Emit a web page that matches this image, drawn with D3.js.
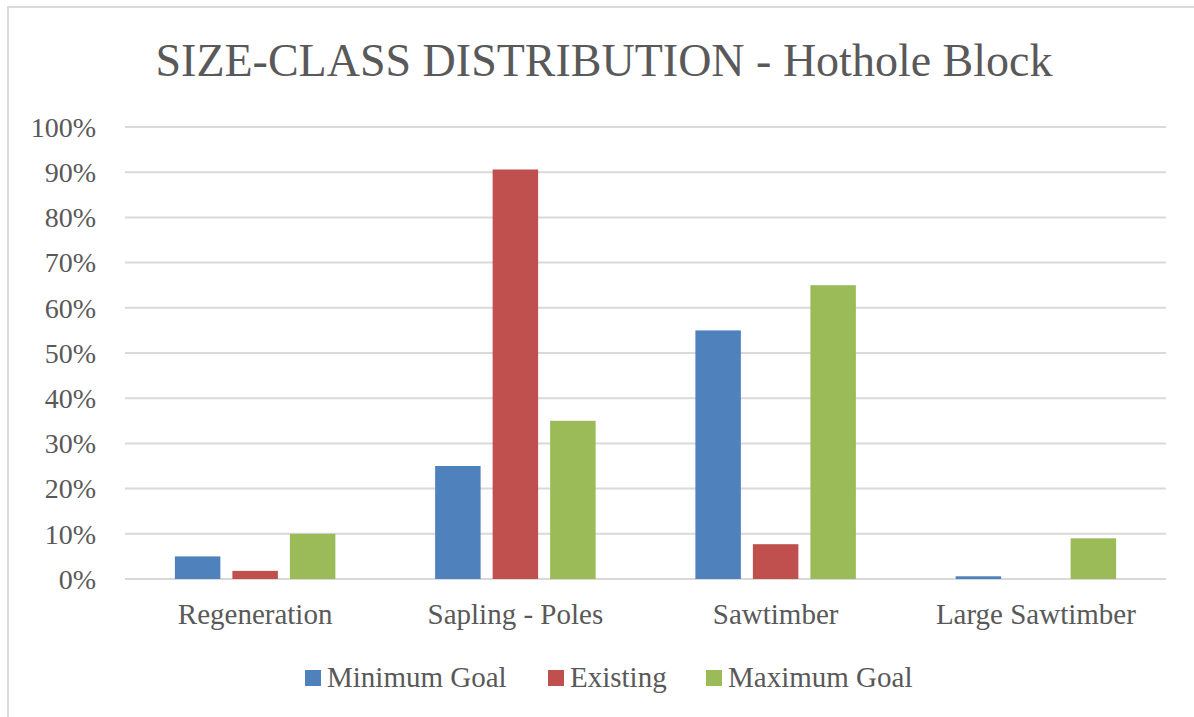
<!DOCTYPE html>
<html>
<head>
<meta charset="utf-8">
<script src="https://cdn.jsdelivr.net/npm/d3@7"></script>
<style>
  html, body { margin: 0; padding: 0; background: #fff; }
  svg { display: block; }
  text { font-family: "Liberation Serif", "Times New Roman", serif; fill: #595959; }
</style>
</head>
<body>
<svg id="chart" width="1194" height="717"></svg>
<script>
// Size-class distribution for the Hothole Block
const categories = ["Regeneration", "Sapling - Poles", "Sawtimber", "Large Sawtimber"];
const seriesNames = ["Minimum Goal", "Existing", "Maximum Goal"];
const minimumGoal = [0.05, 0.25, 0.55, 0.006];
const existing = [0.018, 0.906, 0.077, 0];
const maximumGoal = [0.10, 0.35, 0.65, 0.09];
const seriesColors = ["#4f81bd", "#c0504d", "#9bbb59"];
const yTicks = [0, 0.1, 0.2, 0.3, 0.4, 0.5, 0.6, 0.7, 0.8, 0.9, 1.0];
const titleText = "SIZE-CLASS DISTRIBUTION - Hothole Block";

const seriesValues = [minimumGoal, existing, maximumGoal];

const svg = d3.select("#chart");

// chart frame
svg.append("rect")
  .attr("x", 8).attr("y", 7)
  .attr("width", 1200).attr("height", 720)
  .attr("fill", "#fff")
  .attr("stroke", "#d9d9d9")
  .attr("stroke-width", 2);

const plot = { left: 125, right: 1166, top: 127, bottom: 579 };

const x = d3.scaleBand()
  .domain(categories)
  .range([plot.left, plot.right])
  .padding(0);

const groupWidth = 160.5;
const xs = d3.scaleBand()
  .domain(seriesNames)
  .range([0, groupWidth])
  .paddingInner(0.209)
  .paddingOuter(0);

const y = d3.scaleLinear()
  .domain([0, 1])
  .range([plot.bottom, plot.top]);

// gridlines
svg.append("g")
  .selectAll("line")
  .data(yTicks)
  .join("line")
  .attr("x1", plot.left).attr("x2", plot.right)
  .attr("y1", d => y(d)).attr("y2", d => y(d))
  .attr("stroke", "#d9d9d9")
  .attr("stroke-width", 2);

// y axis labels
const yAxis = d3.axisLeft(y)
  .tickValues(yTicks)
  .tickFormat(d3.format(".0%"))
  .tickSize(0)
  .tickPadding(29);
const yg = svg.append("g")
  .attr("transform", `translate(${plot.left},0)`)
  .call(yAxis);
yg.select(".domain").remove();
yg.selectAll("text")
  .attr("font-size", 28)
  .attr("fill", "#595959")
  .attr("dy", "0.33em");

// bars
const rows = [];
categories.forEach((c, i) => {
  seriesNames.forEach((s, j) => {
    rows.push({ cat: c, series: s, value: seriesValues[j][i], color: seriesColors[j] });
  });
});

svg.append("g")
  .selectAll("rect")
  .data(rows)
  .join("rect")
  .attr("x", d => x(d.cat) + (x.bandwidth() - groupWidth) / 2 + xs(d.series))
  .attr("width", xs.bandwidth())
  .attr("y", d => y(d.value))
  .attr("height", d => y(0) - y(d.value))
  .attr("fill", d => d.color);

// category axis labels
const xAxis = d3.axisBottom(x).tickSize(0).tickPadding(24);
const xg = svg.append("g")
  .attr("transform", `translate(0,${plot.bottom})`)
  .call(xAxis);
xg.select(".domain").remove();
xg.selectAll("text")
  .attr("font-size", 29)
  .attr("fill", "#595959");

// title
svg.append("text")
  .attr("x", 604)
  .attr("y", 76)
  .attr("text-anchor", "middle")
  .attr("font-size", 46)
  .text(titleText);

// legend
const legendX = [305, 548, 706];
const legend = svg.append("g");
seriesNames.forEach((s, i) => {
  const g = legend.append("g").attr("transform", `translate(${legendX[i]},670)`);
  g.append("rect").attr("width", 16).attr("height", 16).attr("fill", seriesColors[i]);
  g.append("text").attr("x", 22).attr("y", 17).attr("font-size", 29).text(s);
});
</script>
</body>
</html>
